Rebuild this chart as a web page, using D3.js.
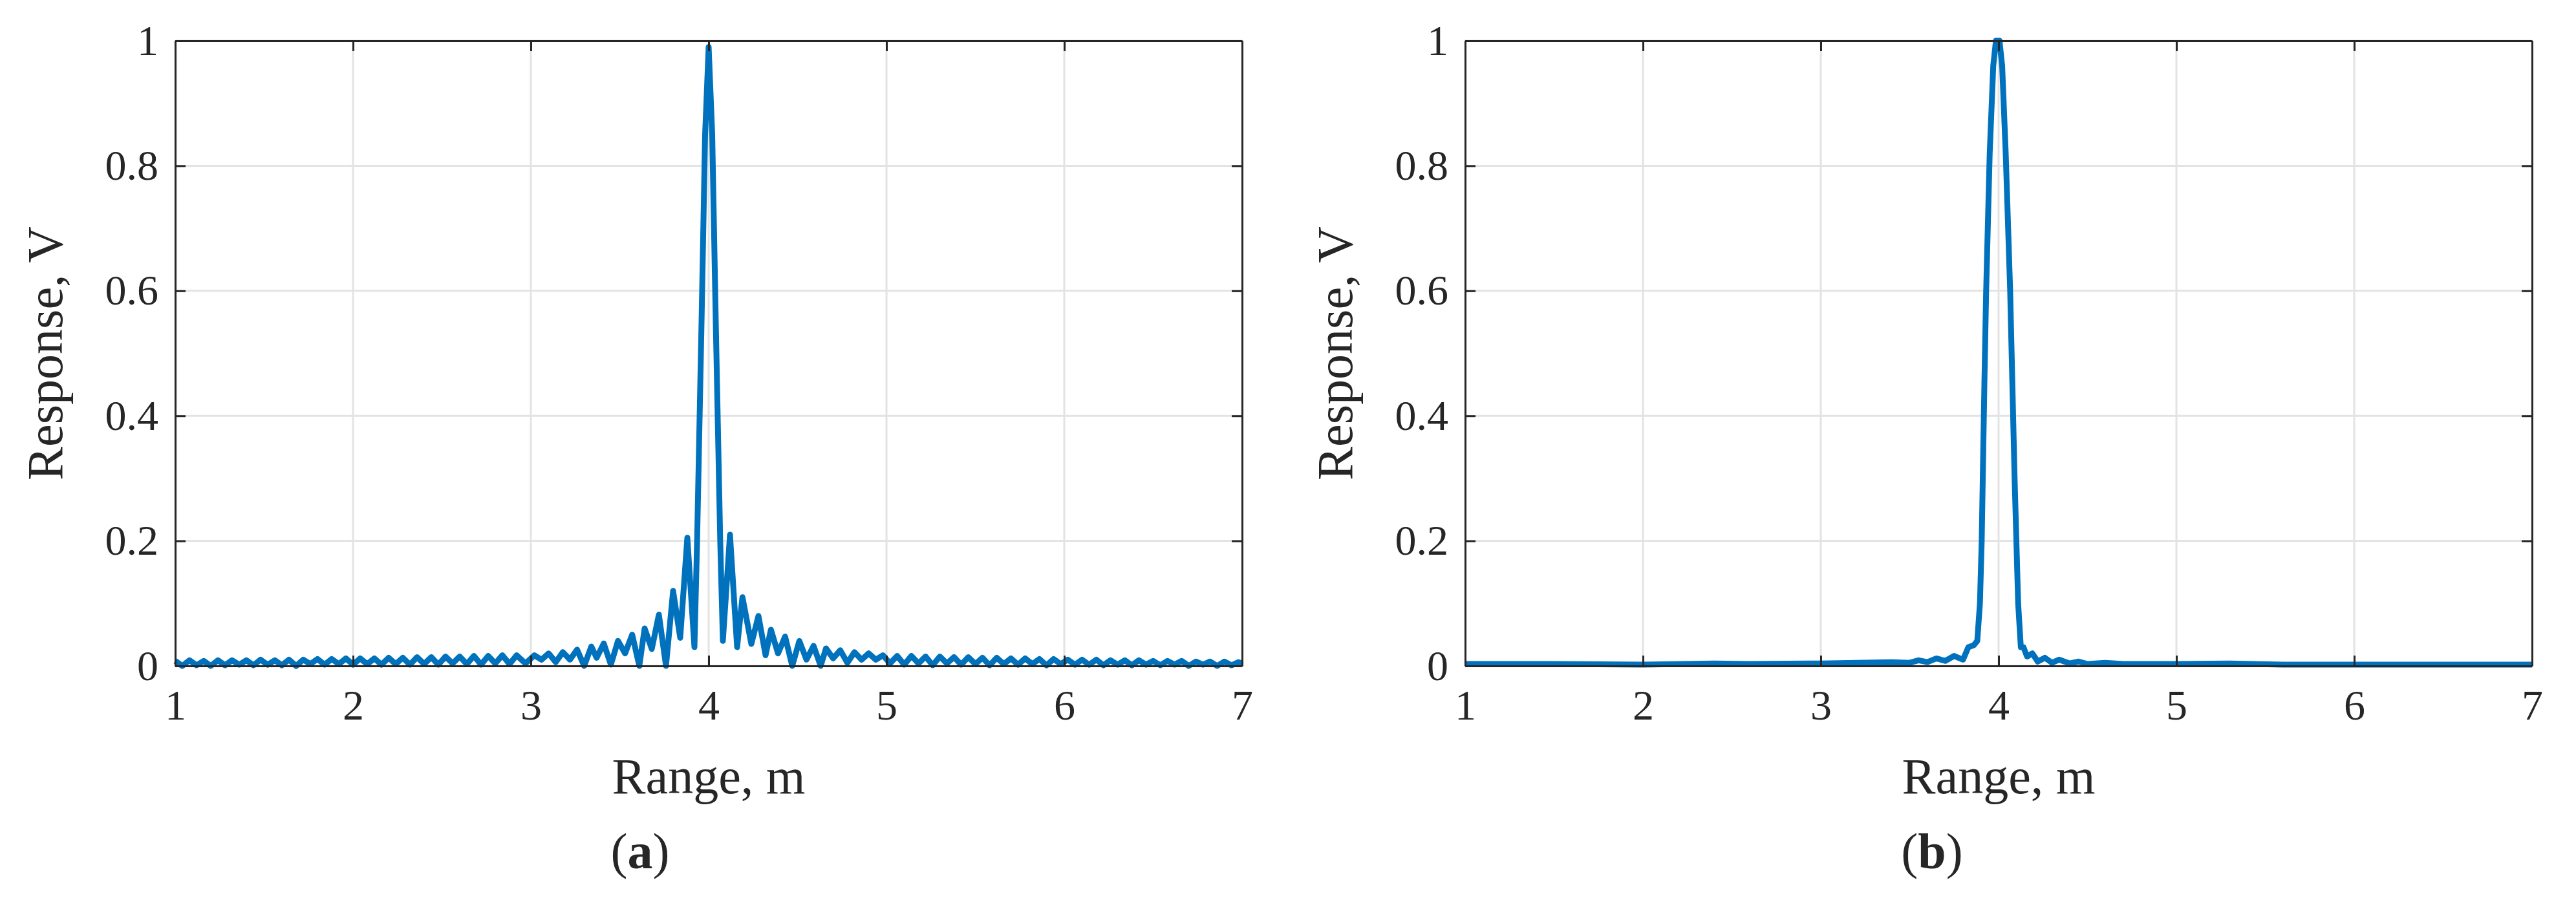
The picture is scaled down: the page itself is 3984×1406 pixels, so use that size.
<!DOCTYPE html>
<html>
<head>
<meta charset="utf-8">
<script src="https://cdn.jsdelivr.net/npm/d3@7"></script>
<style>
  body { margin: 0; background: #fff; }
  text { font-family: "Liberation Serif", "DejaVu Serif", serif; fill: #262626; }
</style>
</head>
<body>
<div class="vis"></div>
<script>
// (a) response before windowing: range (m) and response (V)
const rangeA = [
  1.00,1.04,1.08,1.12,1.16,1.20,1.24,1.28,1.32,1.36,1.40,1.44,1.48,1.52,1.56,1.60,1.64,1.68,1.72,1.76,
  1.80,1.84,1.88,1.92,1.96,2.00,2.04,2.08,2.12,2.16,2.20,2.24,2.28,2.32,2.36,2.40,2.44,2.48,2.52,2.56,
  2.60,2.64,2.68,2.72,2.76,2.80,2.84,2.88,2.92,2.97,
  3.02,3.06,3.10,3.14,3.18,3.22,3.26,3.30,3.34,3.37,3.41,3.45,3.49,3.53,3.57,3.61,3.64,3.68,3.72,3.76,
  3.80,3.84,3.88,3.92,3.935,3.96,3.98,4.00,4.02,4.04,4.065,4.08,
  4.12,4.16,4.19,4.24,4.28,4.32,4.35,4.39,4.43,4.47,4.51,4.55,4.59,4.63,4.66,4.70,4.74,4.78,4.82,4.86,
  4.90,4.94,4.98,
  5.02,5.06,5.10,5.14,5.18,5.22,5.26,5.30,5.34,5.38,5.42,5.46,5.50,5.54,5.58,5.62,5.66,5.70,5.74,5.78,
  5.82,5.86,5.90,5.94,5.98,6.02,6.06,6.10,6.14,6.18,6.22,6.26,6.30,6.34,6.38,6.42,6.46,6.50,6.54,6.58,
  6.62,6.66,6.70,6.74,6.78,6.82,6.86,6.90,6.94,6.98,7.00
];
const respA = [
  0.008,0.000,0.009,0.001,0.008,0.000,0.009,0.001,0.009,0.002,0.009,0.001,0.010,0.002,0.009,0.001,0.010,0.000,0.010,0.003,
  0.011,0.002,0.011,0.003,0.012,0.002,0.012,0.003,0.012,0.002,0.013,0.003,0.013,0.002,0.014,0.003,0.014,0.002,0.015,0.004,
  0.015,0.003,0.016,0.002,0.016,0.004,0.017,0.003,0.017,0.004,
  0.017,0.010,0.020,0.006,0.022,0.010,0.026,0.000,0.031,0.013,0.036,0.002,0.040,0.020,0.050,0.000,0.060,0.027,0.082,0.000,
  0.120,0.045,0.205,0.030,0.200,0.550,0.850,0.990,0.850,0.550,0.200,0.040,
  0.210,0.030,0.110,0.035,0.080,0.017,0.058,0.020,0.047,0.000,0.040,0.010,0.032,0.000,0.028,0.012,0.025,0.005,0.022,0.010,
  0.020,0.010,0.017,
  0.004,0.016,0.002,0.016,0.004,0.015,0.001,0.015,0.004,0.014,0.002,0.014,0.003,0.013,0.001,0.013,0.003,0.012,0.002,0.012,
  0.003,0.011,0.001,0.011,0.003,0.010,0.002,0.010,0.002,0.010,0.001,0.009,0.002,0.009,0.001,0.009,0.002,0.008,0.001,0.008,
  0.002,0.008,0.000,0.007,0.002,0.007,0.000,0.007,0.001,0.006,0.004
];

// (b) response after windowing
const rangeB = [
  1.00,1.50,2.00,2.40,2.60,3.00,3.20,3.40,3.50,3.55,3.60,3.65,3.70,3.75,3.80,3.83,3.86,3.88,3.895,3.905,
  3.92,3.93,3.95,3.97,3.985,4.005,4.02,4.04,4.065,4.09,4.11,4.125,4.14,4.16,4.19,4.22,4.26,4.30,4.34,4.40,
  4.45,4.50,4.60,4.70,5.00,5.30,5.60,6.00,7.00
];
const respB = [
  0.003,0.003,0.002,0.004,0.003,0.004,0.005,0.006,0.005,0.009,0.006,0.012,0.008,0.016,0.010,0.030,0.033,0.040,0.100,0.200,
  0.450,0.600,0.820,0.960,1.000,1.000,0.960,0.820,0.600,0.300,0.100,0.030,0.030,0.015,0.020,0.007,0.013,0.005,0.010,0.004,
  0.007,0.003,0.005,0.003,0.003,0.004,0.002,0.002,0.002
];

const xTicks = [1, 2, 3, 4, 5, 6, 7];
const yTicks = [0, 0.2, 0.4, 0.6, 0.8, 1];

const W = 3984, H = 1406;
const svg = d3.select('.vis').append('svg').attr('width', W).attr('height', H);

const panels = [
  {left: 271, right: 1921, xs: rangeA, ys: respA, tag: 'a', tagX: 990},
  {left: 2266, right: 3916, xs: rangeB, ys: respB, tag: 'b', tagX: 2988}
];
const plotTop = 63, plotBottom = 1030;

panels.forEach(p => {
  const x = d3.scaleLinear().domain([1, 7]).range([p.left, p.right]);
  const y = d3.scaleLinear().domain([0, 1]).range([plotBottom, plotTop]);
  const g = svg.append('g');

  // grid
  g.selectAll('.gx').data(xTicks).enter().append('line')
    .attr('x1', d => x(d)).attr('x2', d => x(d)).attr('y1', plotTop).attr('y2', plotBottom)
    .attr('stroke', '#e3e3e3').attr('stroke-width', 3);
  g.selectAll('.gy').data(yTicks).enter().append('line')
    .attr('y1', d => y(d)).attr('y2', d => y(d)).attr('x1', p.left).attr('x2', p.right)
    .attr('stroke', '#e3e3e3').attr('stroke-width', 3);

  // curve
  const pts = p.xs.map((v, i) => [v, p.ys[i]]);
  g.append('path').datum(pts)
    .attr('d', d3.line().x(d => x(d[0])).y(d => y(d[1])))
    .attr('fill', 'none').attr('stroke', '#0072BD')
    .attr('stroke-width', 9).attr('stroke-linejoin', 'round');

  // axes, ticks inward, box
  const fmt = d => String(d);
  const ax = (gen, tr) => g.append('g').attr('transform', tr)
    .call(gen.tickSizeInner(-16).tickSizeOuter(0).tickPadding(30))
    .call(s => s.select('.domain').attr('stroke', '#262626').attr('stroke-width', 3))
    .call(s => s.selectAll('.tick line').attr('stroke', '#262626').attr('stroke-width', 3))
    .call(s => s.selectAll('text').attr('font-size', 66).attr('fill', '#262626')
      .style('font-family', '"Liberation Serif", serif'));

  ax(d3.axisBottom(x).tickValues(xTicks).tickFormat(fmt), `translate(0,${plotBottom})`)
    .selectAll('text').attr('dy', '0.95em').attr('y', 20);
  ax(d3.axisLeft(y).tickValues(yTicks).tickFormat(fmt), `translate(${p.left},0)`)
    .selectAll('text').attr('x', -26);
  ax(d3.axisTop(x).tickValues(xTicks).tickFormat(''), `translate(0,${plotTop})`);
  ax(d3.axisRight(y).tickValues(yTicks).tickFormat(''), `translate(${p.right},0)`);

  // labels
  g.append('text').attr('x', (p.left + p.right) / 2).attr('y', 1227)
    .attr('text-anchor', 'middle').attr('font-size', 78).text('Range, m');
  g.append('text').attr('transform', `translate(${p.left - 175},${(plotTop + plotBottom) / 2}) rotate(-90)`)
    .attr('text-anchor', 'middle').attr('font-size', 78).text('Response, V');
  const t = g.append('text').attr('x', p.tagX).attr('y', 1343)
    .attr('text-anchor', 'middle').attr('font-size', 78);
  t.append('tspan').text('(');
  t.append('tspan').attr('font-weight', 'bold').text(p.tag);
  t.append('tspan').text(')');
});
</script>
</body>
</html>
